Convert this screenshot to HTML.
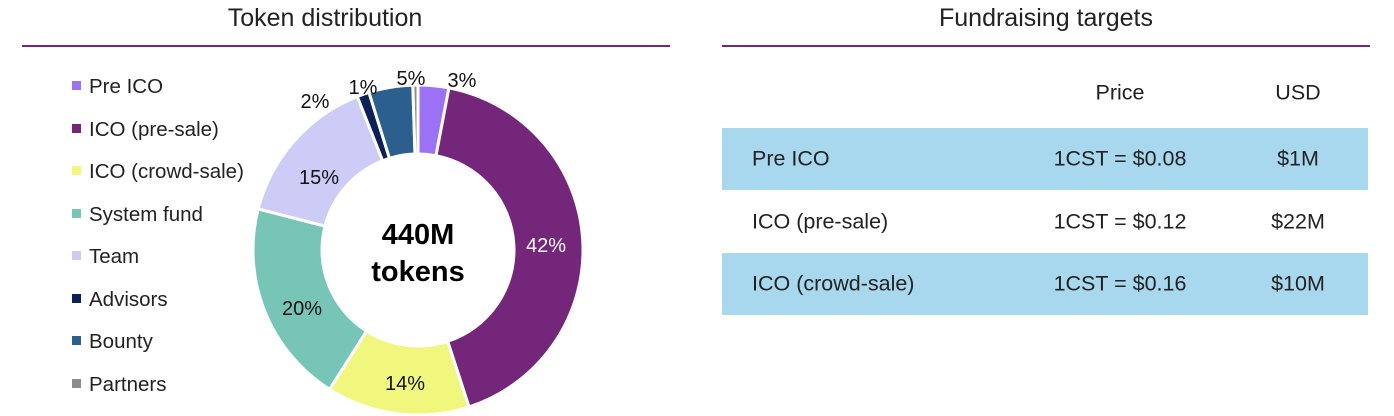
<!DOCTYPE html>
<html><head><meta charset="utf-8"><style>
body{margin:0;width:1394px;height:416px;background:#fff;font-family:"Liberation Sans",sans-serif;color:#222;position:relative;overflow:hidden}
.t{position:absolute;white-space:nowrap}
.title{font-size:25px;top:4px;transform:translateX(-50%)}
.rule{position:absolute;height:2px;background:#74267A;top:45px}
.leg{position:absolute;left:72px;font-size:20.5px}
.leg span{display:inline-block;width:9px;height:9px;margin-right:8px;vertical-align:3px}
.row{position:absolute;left:722px;width:646px;height:62px}
.cell{position:absolute;font-size:21.5px;top:50%;transform:translate(-50%,-50%);white-space:nowrap}
</style></head><body>
<div class="t title" style="left:325px">Token distribution</div>
<div class="rule" style="left:22px;width:648px"></div>
<div class="t title" style="left:1046px">Fundraising targets</div>
<div class="rule" style="left:722px;width:648px"></div>

<div id="legend"></div>
<svg id="donut" width="1394" height="416" style="position:absolute;left:0;top:0"></svg>

<div class="cell" style="left:1120px;top:93px;position:absolute">Price</div>
<div class="cell" style="left:1298px;top:93px;position:absolute">USD</div>

<div class="row" style="top:128px;background:#A8D8EE">
<div class="cell" style="left:30px;transform:translateY(-50%)">Pre ICO</div><div class="cell" style="left:398px">1CST = $0.08</div><div class="cell" style="left:576px">$1M</div></div>
<div class="row" style="top:191px">
<div class="cell" style="left:30px;transform:translateY(-50%)">ICO (pre-sale)</div><div class="cell" style="left:398px">1CST = $0.12</div><div class="cell" style="left:576px">$22M</div></div>
<div class="row" style="top:253px;background:#A8D8EE">
<div class="cell" style="left:30px;transform:translateY(-50%)">ICO (crowd-sale)</div><div class="cell" style="left:398px">1CST = $0.16</div><div class="cell" style="left:576px">$10M</div></div>

<script>
const categories=["Pre ICO","ICO (pre-sale)","ICO (crowd-sale)","System fund","Team","Advisors","Bounty","Partners"];
const values=[3,42,14,20,15,1.2,4.3,0.5];
const valueLabels=["3%","42%","14%","20%","15%","2%","1%","5%"];
const colors=["#9B72F5","#74267A","#F0F77C","#76C5B7","#CCCCF6","#0B2158","#2A5F8E","#8C8C8C"];
const NS="http://www.w3.org/2000/svg";
const svg=document.getElementById('donut');
const cx=418,cy=250,R=165,r=96;
const total=values.reduce((a,b)=>a+b,0);
function pt(a,rad){return [cx+rad*Math.sin(a),cy-rad*Math.cos(a)];}
let acc=0;
const labelPos=[[462,80,0],[546,245,1],[405,383,0],[302,308,0],[319,177,0],[315,101,0],[363,87,0],[411,78,0]];
values.forEach((v,i)=>{
  const a0=acc/total*2*Math.PI; acc+=v; const a1=acc/total*2*Math.PI;
  const lg=(a1-a0)>Math.PI?1:0;
  const [x0,y0]=pt(a0,R),[x1,y1]=pt(a1,R),[x2,y2]=pt(a1,r),[x3,y3]=pt(a0,r);
  const p=document.createElementNS(NS,'path');
  p.setAttribute('d',`M${x0},${y0}A${R},${R} 0 ${lg} 1 ${x1},${y1}L${x2},${y2}A${r},${r} 0 ${lg} 0 ${x3},${y3}Z`);
  p.setAttribute('fill',colors[i]);p.setAttribute('stroke','#fff');p.setAttribute('stroke-width','3');
  
  
  svg.appendChild(p);
});
valueLabels.forEach((l,i)=>{
  const t=document.createElementNS(NS,'text');
  t.setAttribute('x',labelPos[i][0]);t.setAttribute('y',labelPos[i][1]+7);
  t.setAttribute('text-anchor','middle');t.setAttribute('font-size','20');
  t.setAttribute('font-family','Liberation Sans, sans-serif');
  t.setAttribute('fill',labelPos[i][2]?'#fff':'#111');
  t.textContent=l;
  
  
  svg.appendChild(t);
});
[["440M",244],["tokens",281]].forEach(([s,y])=>{
  const t=document.createElementNS(NS,'text');
  t.setAttribute('x',cx);t.setAttribute('y',y);t.setAttribute('text-anchor','middle');
  t.setAttribute('font-size','29');t.setAttribute('font-weight','bold');
  t.setAttribute('font-family','Liberation Sans, sans-serif');t.textContent=s;
  
  
  svg.appendChild(t);
});
const lg=document.getElementById('legend');
categories.forEach((c,i)=>{
  const d=document.createElement('div');d.className='leg';d.style.top=(75+i*42.5)+'px';
  d.innerHTML=`<span style="background:${colors[i]}"></span>${c}`;
  
  
  lg.appendChild(d);
});
</script>
</body></html>
